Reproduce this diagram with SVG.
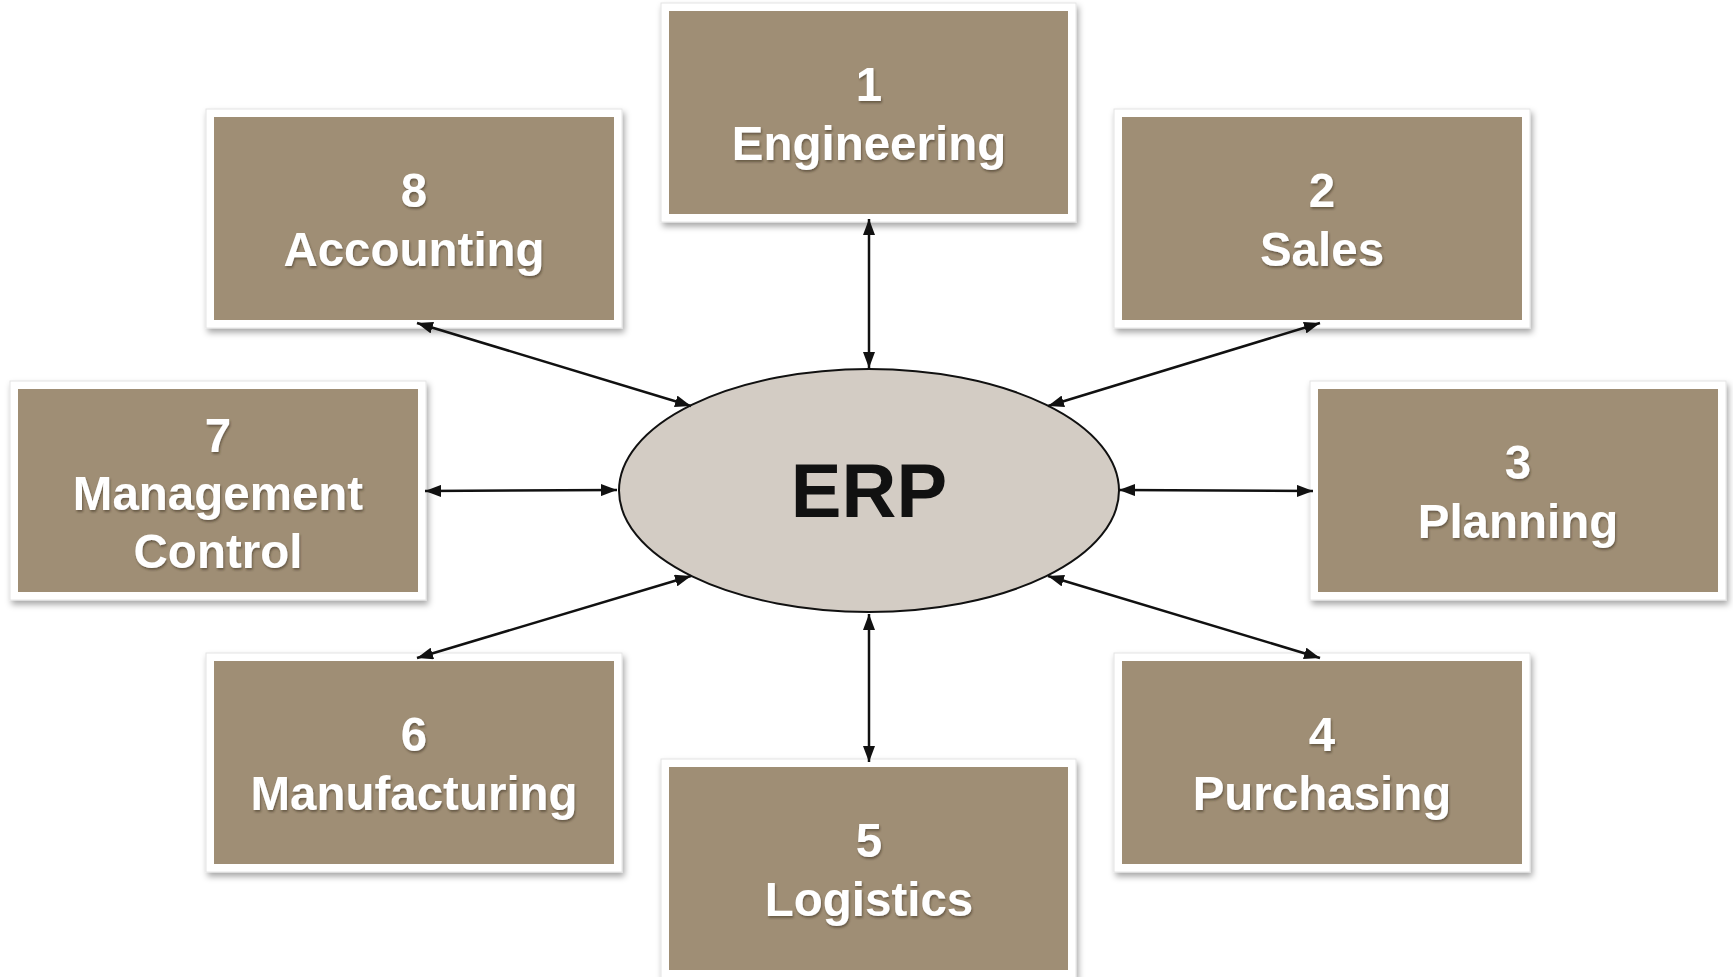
<svg xmlns="http://www.w3.org/2000/svg" width="1733" height="977" viewBox="0 0 1733 977">
<defs>
<style>
.frame{fill:#ffffff;stroke:#e4e4e4;stroke-width:1;filter:url(#boxShadow)}
.box{fill:#9F8E75}
.lbl{font-family:"Liberation Sans",Arial,sans-serif;font-weight:bold;font-size:47.5px;fill:#ffffff;text-anchor:middle;filter:url(#txtShadow)}
.conn{stroke:#111111;stroke-width:2.5;fill:none;marker-start:url(#ah);marker-end:url(#ah)}
.erp{font-family:"Liberation Sans",Arial,sans-serif;font-weight:bold;font-size:76px;fill:#111111;text-anchor:middle}
</style>
<filter id="boxShadow" x="-10%" y="-10%" width="125%" height="130%">
<feDropShadow dx="2" dy="4" stdDeviation="3" flood-color="#000000" flood-opacity="0.35"/>
</filter>
<filter id="txtShadow" x="-10%" y="-20%" width="120%" height="150%">
<feDropShadow dx="1" dy="2" stdDeviation="1" flood-color="#3a3224" flood-opacity="0.55"/>
</filter>
<marker id="ah" viewBox="0 0 16 12" refX="16" refY="6" markerWidth="16" markerHeight="12" markerUnits="userSpaceOnUse" orient="auto-start-reverse">
<path d="M0,0 L16,6 L0,12 z" fill="#111111"/>
</marker>
</defs>
<rect width="1733" height="977" fill="#ffffff"/>
<g id="erp">
<ellipse cx="869" cy="490.5" rx="250" ry="121.5" fill="#D3CCC4" stroke="#111111" stroke-width="2"/>
<text class="erp" x="869" y="517">ERP</text>
</g>
<g id="node1">
<rect class="frame" x="661" y="3" width="415" height="219"/>
<rect class="box" x="669" y="11" width="399" height="203"/>
<text class="lbl" x="869" y="101">1</text>
<text class="lbl" x="869" y="160">Engineering</text>
</g>
<g id="node2">
<rect class="frame" x="1114" y="109" width="416" height="219"/>
<rect class="box" x="1122" y="117" width="400" height="203"/>
<text class="lbl" x="1322" y="207">2</text>
<text class="lbl" x="1322" y="266">Sales</text>
</g>
<g id="node3">
<rect class="frame" x="1310" y="381" width="416" height="219"/>
<rect class="box" x="1318" y="389" width="400" height="203"/>
<text class="lbl" x="1518" y="479">3</text>
<text class="lbl" x="1518" y="538">Planning</text>
</g>
<g id="node4">
<rect class="frame" x="1114" y="653" width="416" height="219"/>
<rect class="box" x="1122" y="661" width="400" height="203"/>
<text class="lbl" x="1322" y="751">4</text>
<text class="lbl" x="1322" y="810">Purchasing</text>
</g>
<g id="node5">
<rect class="frame" x="661" y="759" width="415" height="219"/>
<rect class="box" x="669" y="767" width="399" height="203"/>
<text class="lbl" x="869" y="857">5</text>
<text class="lbl" x="869" y="916">Logistics</text>
</g>
<g id="node6">
<rect class="frame" x="206" y="653" width="416" height="219"/>
<rect class="box" x="214" y="661" width="400" height="203"/>
<text class="lbl" x="414" y="751">6</text>
<text class="lbl" x="414" y="810">Manufacturing</text>
</g>
<g id="node7">
<rect class="frame" x="10" y="381" width="416" height="219"/>
<rect class="box" x="18" y="389" width="400" height="203"/>
<text class="lbl" x="218" y="452">7</text>
<text class="lbl" x="218" y="510">Management</text>
<text class="lbl" x="218" y="568">Control</text>
</g>
<g id="node8">
<rect class="frame" x="206" y="109" width="416" height="219"/>
<rect class="box" x="214" y="117" width="400" height="203"/>
<text class="lbl" x="414" y="207">8</text>
<text class="lbl" x="414" y="266">Accounting</text>
</g>
<g id="connectors">
<line class="conn" x1="869" y1="219" x2="869" y2="368"/>
<line class="conn" x1="1320" y1="323" x2="1048" y2="406"/>
<line class="conn" x1="1119" y1="490" x2="1313" y2="491"/>
<line class="conn" x1="1048" y1="576" x2="1320" y2="658"/>
<line class="conn" x1="869" y1="614" x2="869" y2="762"/>
<line class="conn" x1="691" y1="576" x2="417" y2="658"/>
<line class="conn" x1="617" y1="490" x2="425" y2="491"/>
<line class="conn" x1="691" y1="406" x2="417" y2="323"/>
</g>
</svg>
